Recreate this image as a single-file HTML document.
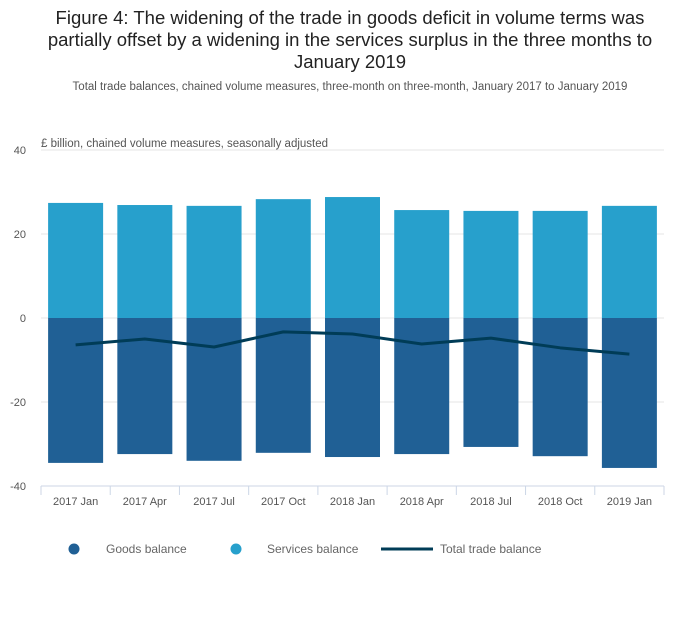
<!DOCTYPE html>
<html><head><meta charset="utf-8"><style>
body{margin:0;background:#fff;width:700px;height:635px;overflow:hidden;font-family:"Liberation Sans","DejaVu Sans",sans-serif}
</style></head><body>
<svg width="700" height="635" xmlns="http://www.w3.org/2000/svg" id="chart">
<text x="350" y="24" text-anchor="middle" font-size="18.5" fill="#222"><tspan x="350">Figure 4: The widening of the trade in goods deficit in volume terms was</tspan><tspan x="350" dy="22">partially offset by a widening in the services surplus in the three months to</tspan><tspan x="350" dy="22">January 2019</tspan></text>
<text x="350" y="90" text-anchor="middle" font-size="11.5" fill="#555">Total trade balances, chained volume measures, three-month on three-month, January 2017 to January 2019</text>
<text x="41" y="147" font-size="11.5" fill="#555">£ billion, chained volume measures, seasonally adjusted</text>
<g id="grid"></g><g id="bars"></g><g id="line"></g><g id="axes"></g>
<g>
<g><circle cx="74" cy="549" r="5.5" fill="#206095"/><text x="106" y="553" font-size="12" fill="#666">Goods balance</text></g>
<g><circle cx="236" cy="549" r="5.5" fill="#27a0cc"/><text x="267" y="553" font-size="12" fill="#666">Services balance</text></g>
<g><line x1="381" y1="549" x2="433" y2="549" stroke="#003c57" stroke-width="3"/><text x="440" y="553" font-size="12" fill="#666">Total trade balance</text></g>
</g>
</svg>
<script>
const categories=["2017 Jan","2017 Apr","2017 Jul","2017 Oct","2018 Jan","2018 Apr","2018 Jul","2018 Oct","2019 Jan"];
const services=[27.4,26.9,26.7,28.3,28.8,25.7,25.5,25.5,26.7];
const goods=[-34.5,-32.4,-34.0,-32.1,-33.1,-32.4,-30.7,-32.9,-35.7];
const total=[-6.4,-5.0,-6.9,-3.3,-3.8,-6.2,-4.8,-7.1,-8.6];
const yTicks=[40,20,0,-20,-40];
const NS="http://www.w3.org/2000/svg";
const x0=41,x1=664,bw=(x1-x0)/categories.length;
function y(v){return 318-v*4.2;}
function xc(i){return x0+bw*(i+0.5);}
function mk(t,a,p){const e=document.createElementNS(NS,t);for(const k in a)e.setAttribute(k,a[k]);p.appendChild(e);return e;}
const grid=document.getElementById('grid'),bars=document.getElementById('bars'),line=document.getElementById('line'),axes=document.getElementById('axes');
yTicks.forEach(v=>{
 if(v>-40){const g=mk('line',{x1:x0,x2:x1,y1:y(v),y2:y(v),stroke:'#e6e6e6'},grid);
 
 }
 const t=mk('text',{x:26,y:y(v)+4,'text-anchor':'end','font-size':11,fill:'#555'},axes);t.textContent=v;
 
 
});
categories.forEach((c,i)=>{
 const s=mk('rect',{x:xc(i)-27.5,width:55,y:y(services[i]),height:y(0)-y(services[i]),fill:'#27a0cc'},bars);
 
 
 const g=mk('rect',{x:xc(i)-27.5,width:55,y:y(0),height:y(goods[i])-y(0),fill:'#206095'},bars);
 
 
 const t=mk('text',{x:xc(i),y:505,'text-anchor':'middle','font-size':11,fill:'#555'},axes);t.textContent=c;
 
 
});
for(let i=0;i<=categories.length;i++){const tk=mk('line',{x1:x0+bw*i,x2:x0+bw*i,y1:486,y2:495,stroke:'#ccd6e6'},axes);
 
 }
const ax=mk('line',{x1:x0,x2:x1,y1:486,y2:486,stroke:'#ccd6e6'},axes);


const p=mk('path',{d:total.map((v,i)=>(i?'L':'M')+xc(i)+' '+y(v)).join(' '),fill:'none',stroke:'#003c57','stroke-width':3,'stroke-linejoin':'round'},line);


</script>
</body></html>
